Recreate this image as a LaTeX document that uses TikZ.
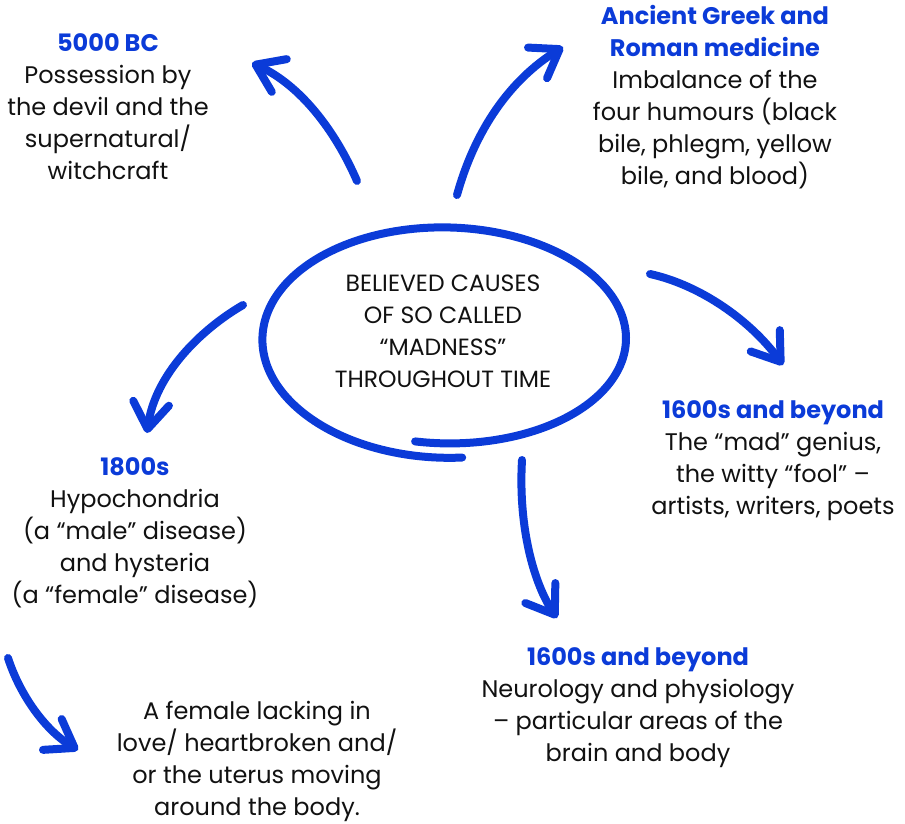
\documentclass[tikz,border=0pt]{standalone}
\usepackage{fontspec}
\setmainfont{Poppins}
\usetikzlibrary{arrows.meta}
\definecolor{madblue}{HTML}{0B3BD8}
\definecolor{inkblack}{HTML}{111111}

\begin{document}
\begin{tikzpicture}[x=1pt, y=-1pt,
    causetext/.style={align=center, text=inkblack, inner sep=0pt,
                      font=\fontsize{24}{32}\selectfont},
    causearrow/.style={draw=madblue, line width=8pt, line cap=round,
                       -{Straight Barb[length=26pt, width=36pt, round]}},
    ring/.style={draw=madblue, line width=8pt, line cap=round}]
  \useasboundingbox (0,0) rectangle (905,824);

  % centre
  \node[causetext, font=\fontsize{23.5}{32}\selectfont] (title) at (443,331)
    {BELIEVED CAUSES\\OF SO CALLED\\“MADNESS”\\THROUGHOUT TIME};
  \draw[ring] plot[domain=100:-275, samples=150, smooth]
    ({446+(178+(100-\x)*0.02)*cos(\x)}, {339+(104+(100-\x)*0.04)*sin(\x)});

  % the causes
  \node[causetext] (bc) at (108,107)
    {\textcolor{madblue}{\bfseries 5000 BC}\\Possession by\\the devil and the\\supernatural/\\witchcraft};
  \node[causetext] (greek) at (715,97)
    {\textcolor{madblue}{\bfseries Ancient Greek and}\\\textcolor{madblue}{\bfseries Roman medicine}\\Imbalance of the\\four humours (black\\bile, phlegm, yellow\\bile, and blood)};
  \node[causetext] (genius) at (773,461)
    {\textcolor{madblue}{\bfseries 1600s and beyond}\\The “mad” genius,\\the witty “fool” –\\artists, writers, poets};
  \node[causetext] (hypo) at (135,533)
    {\textcolor{madblue}{\bfseries 1800s}\\Hypochondria\\(a “male” disease)\\and hysteria\\(a “female” disease)};
  \node[causetext] (neuro) at (638,708)
    {\textcolor{madblue}{\bfseries 1600s and beyond}\\Neurology and physiology\\– particular areas of the\\brain and body};
  \node[causetext] (uterus) at (257,761)
    {A female lacking in\\love/ heartbroken and/\\or the uterus moving\\around the body.};

  % arrow ends
  \coordinate (bc-from) at (357,181);
  \coordinate (bc-to) at (252,63);
  \coordinate (greek-from) at (457,195);
  \coordinate (greek-to) at (563,47);
  \coordinate (genius-from) at (650,274);
  \coordinate (genius-to) at (783,365);
  \coordinate (hypo-from) at (243,305);
  \coordinate (hypo-to) at (147,433);
  \coordinate (neuro-from) at (522,460);
  \coordinate (neuro-to) at (557,618);
  \coordinate (uterus-from) at (8,658);
  \coordinate (uterus-to) at (78,750);

  \draw[causearrow] (bc-from) .. controls (335,130) and (300,85) .. (bc-to);
  \draw[causearrow] (greek-from) .. controls (475,130) and (510,80) .. (greek-to);
  \draw[causearrow] (genius-from) .. controls (700,285) and (750,320) .. (genius-to);
  \draw[causearrow] (hypo-from) .. controls (200,330) and (155,375) .. (hypo-to);
  \draw[causearrow] (neuro-from) .. controls (518,530) and (535,585) .. (neuro-to);
  \draw[causearrow] (uterus-from) .. controls (20,695) and (45,730) .. (uterus-to);
\end{tikzpicture}
\end{document}
